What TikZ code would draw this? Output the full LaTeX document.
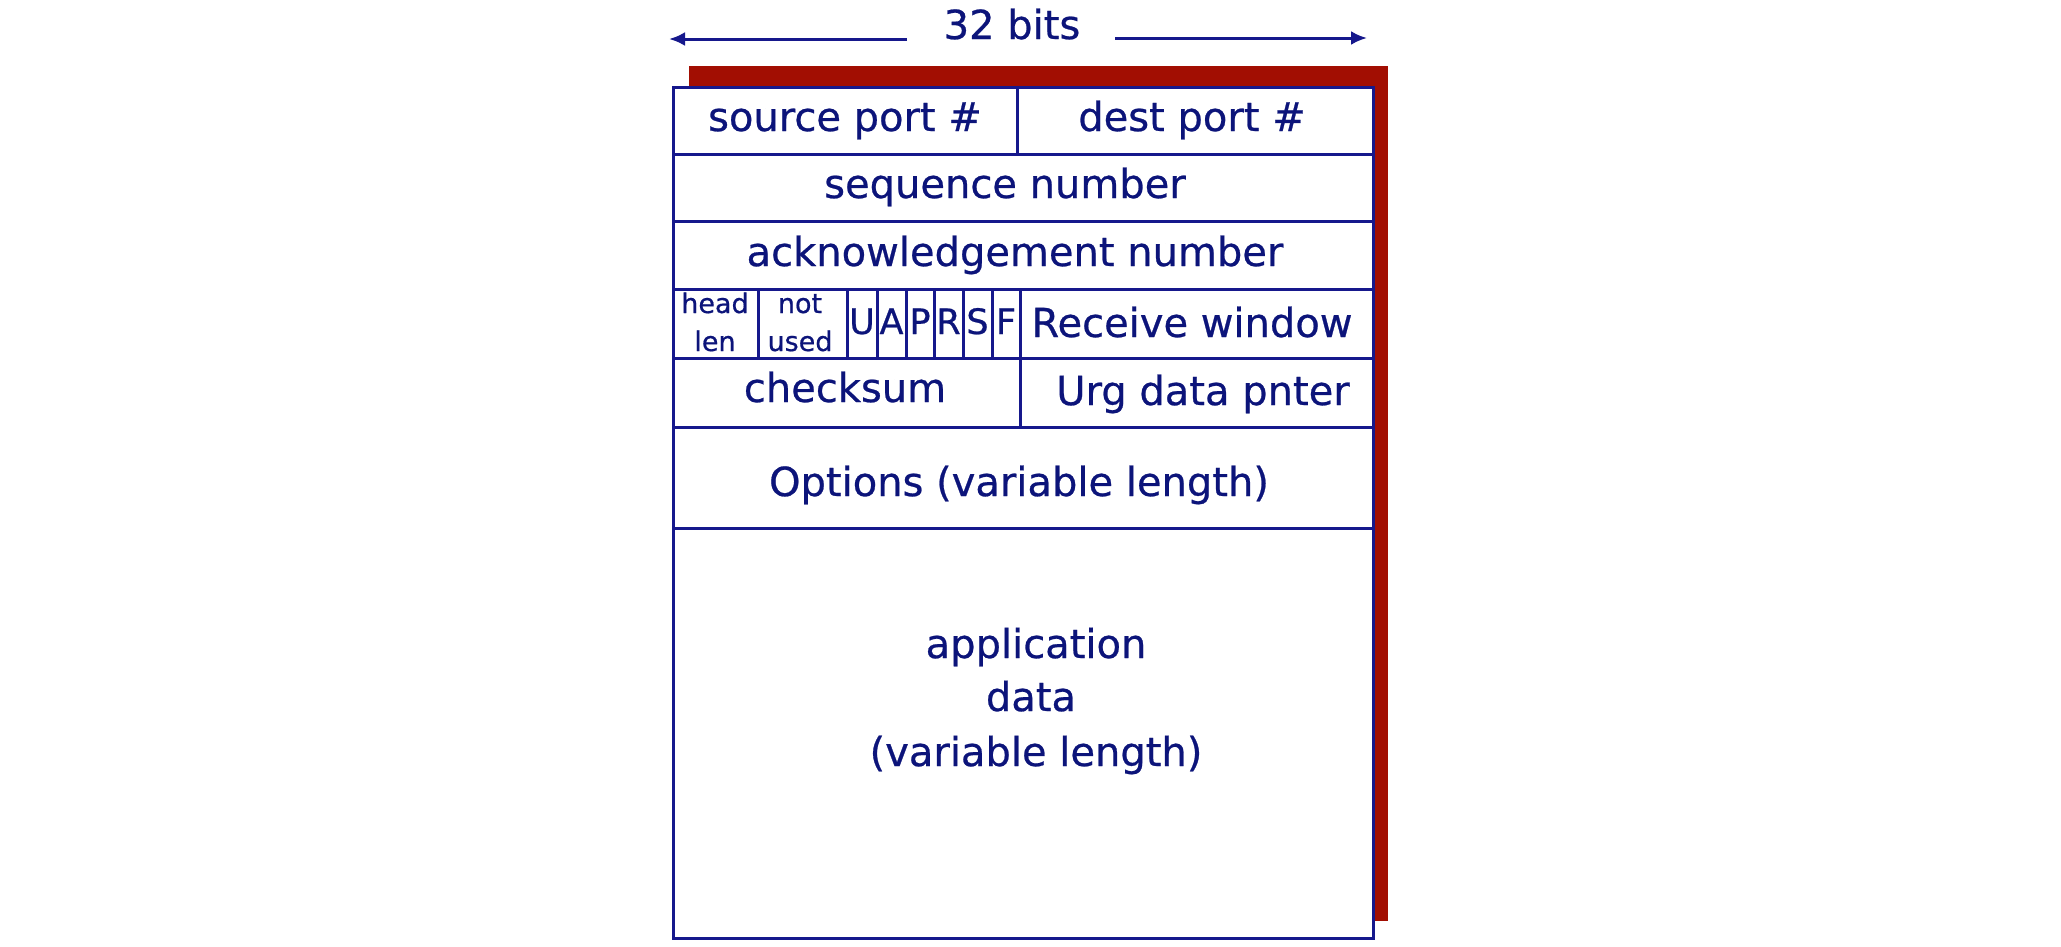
\documentclass[tikz,border=0pt]{standalone}
\usepackage{fontspec}
\setmainfont{DejaVu Sans}
\newfontfamily\diagfont{DejaVu Sans}[FakeBold=0.6]
\usetikzlibrary{arrows.meta}
\definecolor{navy}{RGB}{22,24,140}
\definecolor{txtnavy}{RGB}{12,20,122}
\definecolor{shadowred}{RGB}{162,14,2}
\begin{document}
\begin{tikzpicture}[x=1pt,y=-1pt,
  lbl/.style={text=txtnavy, font=\diagfont\fontsize{40}{48}\selectfont, inner sep=0pt, anchor=base},
  smalllbl/.style={text=txtnavy, font=\diagfont\fontsize{27}{31}\selectfont, inner sep=0pt, anchor=base},
  flaglbl/.style={text=txtnavy, font=\diagfont\fontsize{35}{40}\selectfont, inner sep=0pt, anchor=base},
  frame/.style={draw=navy, line width=3pt},
  sizearrow/.style={draw=navy, line width=3pt, -{Latex[length=16pt,width=14pt]}}]
\useasboundingbox (0,0) rectangle (2061,946);
\fill[white] (0,0) rectangle (2061,946);
% shadow
\fill[shadowred] (689,66) rectangle (1388,921);
\fill[white] (673,87) rectangle (1373,938);
% frame
\draw[frame] (673,87) rectangle (1373,938);
\foreach \yy in {154,221,289,358,427,528} \draw[frame] (673,\yy) -- (1373,\yy);
\draw[frame] (1017,87) -- (1017,154);
\foreach \xx in {758,847,877,906,934,963,992,1020} \draw[frame] (\xx,289) -- (\xx,358);
\draw[frame] (1020,358) -- (1020,427);
% width label
\node[lbl] (bits) at (1012,39) {32 bits};
\coordinate (al0) at (907,39);
\coordinate (al1) at (669,39);
\coordinate (ar0) at (1115,38);
\coordinate (ar1) at (1367,38);
\draw[sizearrow] (al0) -- (al1);
\draw[sizearrow] (ar0) -- (ar1);
% texts
\node[lbl] (src) at (845,131) {source port \#};
\node[lbl] (dst) at (1192,131) {dest port \#};
\node[lbl] (seq) at (1005,198) {sequence number};
\node[lbl] (ack) at (1015,266) {acknowledgement number};
\node[smalllbl] (head) at (715,313) {head};
\node[smalllbl] (len) at (715,351) {len};
\node[smalllbl] (not) at (800,313) {not};
\node[smalllbl] (used) at (800,351) {used};
\node[flaglbl] (fU) at (862,334) {U};
\node[flaglbl] (fA) at (891.5,334) {A};
\node[flaglbl] (fP) at (920,334) {P};
\node[flaglbl] (fR) at (948.5,334) {R};
\node[flaglbl] (fS) at (977.5,334) {S};
\node[flaglbl] (fF) at (1006,334) {F};
\node[lbl] (rwin) at (1192,337) {Receive window};
\node[lbl] (cks) at (845,402) {checksum};
\node[lbl] (urg) at (1203,405) {Urg data pnter};
\node[lbl] (opt) at (1019,496) {Options (variable length)};
\node[lbl] (app1) at (1036,658) {application};
\node[lbl] (app2) at (1031,711) {data};
\node[lbl] (app3) at (1036,766) {(variable length)};
\end{tikzpicture}
\end{document}
